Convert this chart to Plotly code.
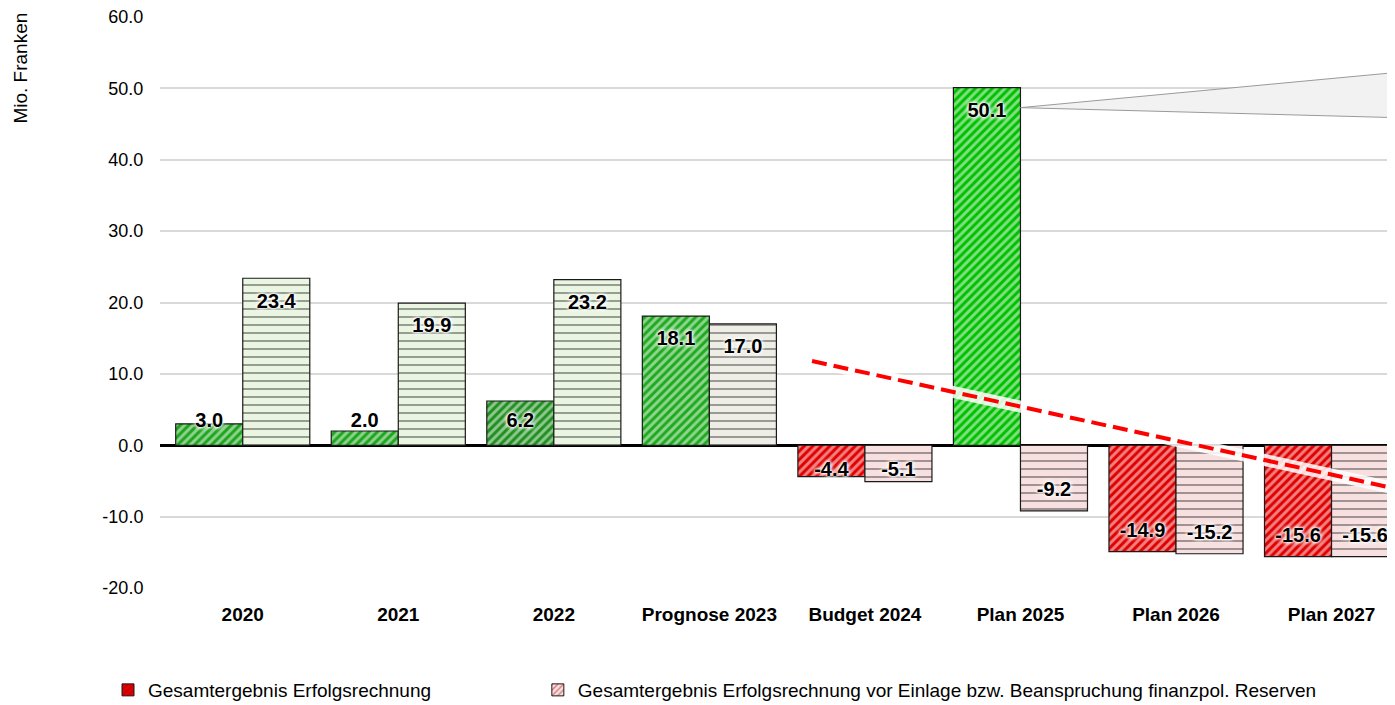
import plotly.graph_objects as go

# ---------------- data ----------------
categories = ["2020", "2021", "2022", "Prognose 2023", "Budget 2024",
              "Plan 2025", "Plan 2026", "Plan 2027"]
ergebnis = [3.0, 2.0, 6.2, 18.1, -4.4, 50.1, -14.9, -15.6]
vor_reserven = [23.4, 19.9, 23.2, 17.0, -5.1, -9.2, -15.2, -15.6]
prognose_index = 3  # greyish styling for the forecast year

trend_x = [3.66, 7.5]
trend_y = [11.8, -6.5]

callout_x = [5.0, 7.5, 7.5]
callout_y = [47.3, 52.4, 45.85]

y_ticks = [-20, -10, 0, 10, 20, 30, 40, 50, 60]

name1 = "Gesamtergebnis Erfolgsrechnung"
name2 = "Gesamtergebnis Erfolgsrechnung vor Einlage bzw. Beanspruchung finanzpol. Reserven"

# ---------------- styling ----------------
FONT = "Liberation Sans, Arial, sans-serif"
xs = list(range(len(categories)))
BW = 0.431

# per-bar styles for series 1 (positive green shades, negative red)
s1_pos_styles = {0: ("#1ea51e", "#0c5c0c"), 1: ("#1ea51e", "#0c5c0c"),
                 2: ("#1f8f1f", "#106010"), 3: ("#1eaa1e", "#808080"),
                 5: ("#00c000", "#005e00")}
RED_BG, RED_FG = "#e00000", "#a80000"

def s1_colors(v, i):
    if v < 0:
        return RED_BG, RED_FG
    return s1_pos_styles.get(i, ("#1ea51e", "#0c5c0c"))

def s2_colors(v, i):
    if v < 0:
        return "#f9e0e0", "#b81414"
    if i == prognose_index:
        return "#eeeee6", "#8a8a8a"
    return "#eaf5e2", "#1a8a1a"

bg1, fg1 = zip(*[s1_colors(v, i) for i, v in enumerate(ergebnis)])
bg2, fg2 = zip(*[s2_colors(v, i) for i, v in enumerate(vor_reserven)])

def label_y(v):
    if v >= 0:
        return max(v - 3.4, 3.2)
    return min(v + 2.8, -3.6)

fig = go.Figure()

fig.add_trace(go.Bar(
    x=xs, y=ergebnis, width=BW, offset=-BW, showlegend=False, name=name1,
    marker=dict(color=list(bg1), line=dict(color="#1a1a1a", width=1.2),
                pattern=dict(shape="/", fgcolor=list(fg1), bgcolor=list(bg1),
                             size=6, solidity=0.5, fillmode="overlay")),
    hoverinfo="skip"))
fig.add_trace(go.Bar(
    x=xs, y=vor_reserven, width=BW, offset=0, showlegend=False, name=name2,
    marker=dict(color=list(bg2), line=dict(color="#1a1a1a", width=1.2),
                pattern=dict(shape="-", fgcolor=list(fg2), bgcolor=list(bg2),
                             size=8, solidity=0.25, fillmode="overlay")),
    hoverinfo="skip"))

# legend-only entries (red versions, as in the original legend)
fig.add_trace(go.Bar(
    x=[None], y=[None], name=name1, showlegend=True, legend="legend",
    marker=dict(color=RED_BG, line=dict(color="#1a1a1a", width=1),
                pattern=dict(shape="/", fgcolor=RED_FG, bgcolor=RED_BG,
                             size=5, solidity=0.35))))
fig.add_trace(go.Bar(
    x=[None], y=[None], name=name2, showlegend=True, legend="legend2",
    marker=dict(color="#f9e0e0", line=dict(color="#1a1a1a", width=1),
                pattern=dict(shape="/", fgcolor="#b81414", bgcolor="#f9e0e0",
                             size=5, solidity=0.35))))

# trend line with white glow
fig.add_trace(go.Scatter(x=trend_x, y=trend_y, mode="lines", showlegend=False,
                         line=dict(color="rgba(255,255,255,0.85)", width=12),
                         hoverinfo="skip"))
fig.add_trace(go.Scatter(x=trend_x, y=trend_y, mode="lines", showlegend=False,
                         line=dict(color="#ff0000", width=4, dash="15px,7px"),
                         hoverinfo="skip"))

# data labels
lab_x = [x - BW / 2 for x in xs] + [x + BW / 2 for x in xs]
lab_y = [label_y(v) for v in ergebnis] + [label_y(v) for v in vor_reserven]
lab_t = [f"{v:.1f}" for v in ergebnis] + [f"{v:.1f}" for v in vor_reserven]
fig.add_trace(go.Scatter(
    x=lab_x, y=lab_y, text=lab_t, mode="text", showlegend=False,
    textposition="middle center", cliponaxis=False,
    textfont=dict(family=FONT, size=20, color="#000000", weight="bold",
                  shadow="0px 0px 2px #ffffff, 0px 0px 3px #ffffff, 0px 0px 4px #ffffff, 0px 0px 5px #ffffff"),
    hoverinfo="skip"))

# callout wedge
path = "M {} {} L {} {} L {} {} Z".format(callout_x[0], callout_y[0],
                                          callout_x[1], callout_y[1],
                                          callout_x[2], callout_y[2])
fig.add_shape(type="path", path=path, xref="x", yref="y",
              fillcolor="#f2f2f2", line=dict(color="#9a9a9a", width=1), layer="above")

fig.add_annotation(text="Mio. Franken", textangle=-90, xref="paper", yref="paper",
                   x=-0.1126, y=1.012, xanchor="center", yanchor="top", showarrow=False,
                   font=dict(family=FONT, size=19, color="#000000"))

legend_common = dict(orientation="h", xanchor="left", yanchor="middle",
                     xref="container", yref="container", y=0.0215,
                     font=dict(family=FONT, size=19, color="#000000"),
                     bgcolor="rgba(0,0,0,0)")

fig.update_layout(
    width=1387, height=697,
    margin=dict(l=152, r=0, t=9, b=117, autoexpand=False),
    paper_bgcolor="white", plot_bgcolor="white",
    barmode="overlay",
    font=dict(family=FONT, size=18, color="#000000"),
    xaxis=dict(range=[-0.532, 7.408], tickvals=xs, ticktext=categories,
               showgrid=False, zeroline=False, showline=False,
               ticks="outside", ticklen=0, ticklabelstandoff=9,
               tickfont=dict(family=FONT, size=19, color="#000000", weight="bold")),
    yaxis=dict(range=[-20, 60], tickvals=y_ticks, ticktext=[f"{v:.1f}" for v in y_ticks],
               showgrid=True, gridcolor="#d9d9d9", gridwidth=1.5,
               zeroline=True, zerolinecolor="#000000", zerolinewidth=2.5,
               showline=False, ticks="outside", ticklen=0, ticklabelstandoff=12,
               ticklabeloverflow="allow",
               tickfont=dict(family=FONT, size=18, color="#000000")),
    legend=dict(x=0.0721, **legend_common),
    legend2=dict(x=0.382, **legend_common),
)

fig.write_html("out.html")
